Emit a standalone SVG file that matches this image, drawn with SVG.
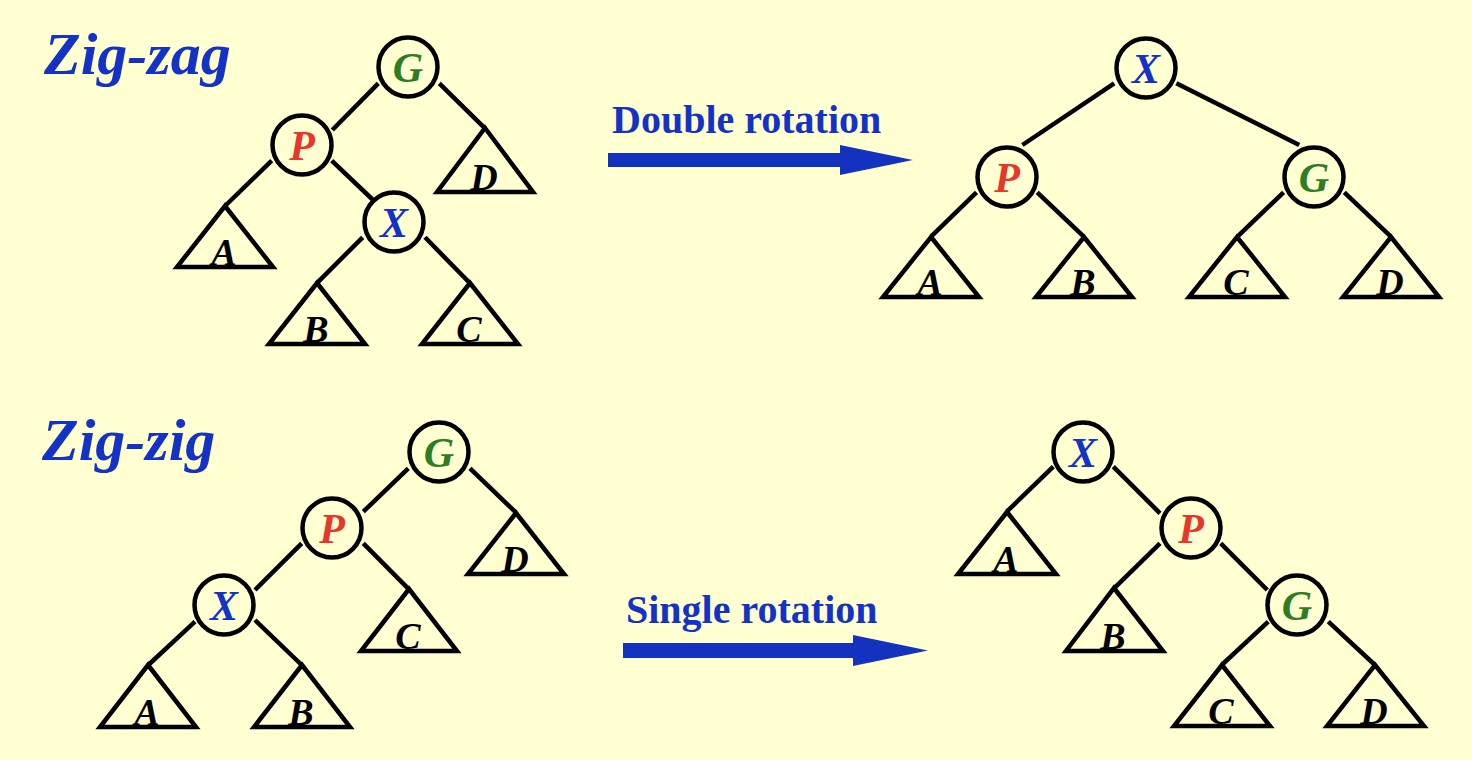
<svg xmlns="http://www.w3.org/2000/svg" width="1472" height="760" viewBox="0 0 1472 760">
<style>
.bg{fill:#FFFFD2}
.e{stroke:#000;stroke-width:4.5;fill:none;stroke-linecap:butt}
.n{fill:#FFFFD2;stroke:#000;stroke-width:4.5}
.t{fill:none;stroke:#000;stroke-width:4.5;stroke-linejoin:miter}
.lb{font-family:"Liberation Serif","Times New Roman",serif;font-weight:bold;font-style:italic;font-size:42px;text-anchor:middle}
.sl{font-family:"Liberation Serif","Times New Roman",serif;font-weight:bold;font-style:italic;font-size:38px;text-anchor:middle;fill:#000}
.x{fill:#1432C8}.p{fill:#E8372A}.g{fill:#2E7D22}
.title{font-family:"Liberation Serif","Times New Roman",serif;font-weight:bold;font-style:italic;font-size:60px;fill:#1432C8}
.cap{font-family:"Liberation Serif","Times New Roman",serif;font-weight:bold;font-size:40px;fill:#1432C8}
.arr{fill:#1432C0}
</style>
<rect class="bg" x="0" y="0" width="1472" height="760"/>
<text class="title" x="44" y="74">Zig-zag</text>
<text class="title" x="42" y="460">Zig-zig</text>
<g id="arrow-double">
<path class="arr" d="M608,153 H840 V145 L913,160 L840,175 V167 H608 Z"/>
<text class="cap" x="612" y="133">Double rotation</text>
</g>
<g id="arrow-single">
<path class="arr" d="M623,643 H853 V635 L928,650.5 L853,666 V658 H623 Z"/>
<text class="cap" x="626" y="623">Single rotation</text>
</g>
<g id="connectors">
<line class="e" x1="378.3" y1="83.3" x2="332.3" y2="130"/>
<line class="e" x1="439.3" y1="83.3" x2="485" y2="128.3"/>
<line class="e" x1="271.7" y1="160.7" x2="225" y2="206"/>
<line class="e" x1="331.7" y1="160.7" x2="378.3" y2="205"/>
<line class="e" x1="362.7" y1="237.3" x2="316.7" y2="283.3"/>
<line class="e" x1="425" y1="237.3" x2="470" y2="283.3"/>
<line class="e" x1="1114.2" y1="83.3" x2="1022.4" y2="145"/>
<line class="e" x1="1176.3" y1="83.3" x2="1299.2" y2="145"/>
<line class="e" x1="976.5" y1="192.3" x2="931" y2="236.7"/>
<line class="e" x1="1037.2" y1="192.3" x2="1083.8" y2="236.7"/>
<line class="e" x1="1283.6" y1="192.3" x2="1237.4" y2="236.7"/>
<line class="e" x1="1344.3" y1="192.3" x2="1390.9" y2="236.7"/>
<line class="e" x1="408.3" y1="468.3" x2="363.3" y2="511.7"/>
<line class="e" x1="470" y1="468.3" x2="516" y2="512.7"/>
<line class="e" x1="301.7" y1="543.3" x2="255" y2="590"/>
<line class="e" x1="363.3" y1="543.3" x2="409" y2="589.3"/>
<line class="e" x1="195" y1="621.7" x2="148.3" y2="665"/>
<line class="e" x1="255" y1="620" x2="301.7" y2="665"/>
<line class="e" x1="1053.3" y1="466.7" x2="1006.7" y2="511.7"/>
<line class="e" x1="1113.3" y1="466.7" x2="1160" y2="513.3"/>
<line class="e" x1="1160" y1="543.3" x2="1114" y2="588.3"/>
<line class="e" x1="1220.7" y1="543.3" x2="1267.3" y2="590"/>
<line class="e" x1="1268.3" y1="621.7" x2="1221.7" y2="665"/>
<line class="e" x1="1328.3" y1="621.7" x2="1375" y2="665"/>
</g>
<!-- Zig-zag before -->
<g id="zz1-G"><circle class="n" cx="408" cy="67" r="29.5"/><text class="lb g" x="408" y="82">G</text></g>
<g id="zz1-P"><circle class="n" cx="302" cy="145" r="29.5"/><text class="lb p" x="302" y="160">P</text></g>
<g id="zz1-X"><circle class="n" cx="394" cy="222" r="29.5"/><text class="lb x" x="394" y="237">X</text></g>
<g id="zz1-A"><path class="t" d="M225,206 L273,267 H177 Z"/><text class="sl" x="224" y="265">A</text></g>
<g id="zz1-B"><path class="t" d="M317,283 L365,344 H269 Z"/><text class="sl" x="316" y="342">B</text></g>
<g id="zz1-C"><path class="t" d="M470,283 L518,344 H422 Z"/><text class="sl" x="469" y="342">C</text></g>
<g id="zz1-D"><path class="t" d="M485,128 L533,192 H437 Z"/><text class="sl" x="484" y="190">D</text></g>
<!-- Zig-zag after -->
<g id="zz2-X"><circle class="n" cx="1146" cy="68" r="29.5"/><text class="lb x" x="1146" y="83">X</text></g>
<g id="zz2-P"><circle class="n" cx="1007" cy="177" r="29.5"/><text class="lb p" x="1007" y="192">P</text></g>
<g id="zz2-G"><circle class="n" cx="1314" cy="177" r="29.5"/><text class="lb g" x="1314" y="192">G</text></g>
<g id="zz2-A"><path class="t" d="M931,237 L979,297 H883 Z"/><text class="sl" x="930" y="295">A</text></g>
<g id="zz2-B"><path class="t" d="M1084,237 L1132,297 H1036 Z"/><text class="sl" x="1083" y="295">B</text></g>
<g id="zz2-C"><path class="t" d="M1237,237 L1285,297 H1189 Z"/><text class="sl" x="1236" y="295">C</text></g>
<g id="zz2-D"><path class="t" d="M1391,237 L1439,297 H1343 Z"/><text class="sl" x="1390" y="295">D</text></g>
<!-- Zig-zig before -->
<g id="zg1-G"><circle class="n" cx="439" cy="452" r="29.5"/><text class="lb g" x="439" y="467">G</text></g>
<g id="zg1-P"><circle class="n" cx="332" cy="528" r="29.5"/><text class="lb p" x="332" y="543">P</text></g>
<g id="zg1-X"><circle class="n" cx="224" cy="605" r="29.5"/><text class="lb x" x="224" y="620">X</text></g>
<g id="zg1-A"><path class="t" d="M148,665 L196,727 H100 Z"/><text class="sl" x="147" y="725">A</text></g>
<g id="zg1-B"><path class="t" d="M302,665 L350,727 H254 Z"/><text class="sl" x="301" y="725">B</text></g>
<g id="zg1-C"><path class="t" d="M409,589 L457,651 H361 Z"/><text class="sl" x="408" y="649">C</text></g>
<g id="zg1-D"><path class="t" d="M516,513 L564,574 H468 Z"/><text class="sl" x="515" y="572">D</text></g>
<!-- Zig-zig after -->
<g id="zg2-X"><circle class="n" cx="1083" cy="452" r="29.5"/><text class="lb x" x="1083" y="467">X</text></g>
<g id="zg2-P"><circle class="n" cx="1191" cy="528" r="29.5"/><text class="lb p" x="1191" y="543">P</text></g>
<g id="zg2-G"><circle class="n" cx="1297" cy="605" r="29.5"/><text class="lb g" x="1297" y="620">G</text></g>
<g id="zg2-A"><path class="t" d="M1007,512 L1056,574 H958 Z"/><text class="sl" x="1006" y="572">A</text></g>
<g id="zg2-B"><path class="t" d="M1114,588 L1163,651 H1066 Z"/><text class="sl" x="1113" y="649">B</text></g>
<g id="zg2-C"><path class="t" d="M1222,665 L1270,726 H1174 Z"/><text class="sl" x="1221" y="724">C</text></g>
<g id="zg2-D"><path class="t" d="M1375,665 L1424,726 H1327 Z"/><text class="sl" x="1374" y="724">D</text></g>
</svg>
